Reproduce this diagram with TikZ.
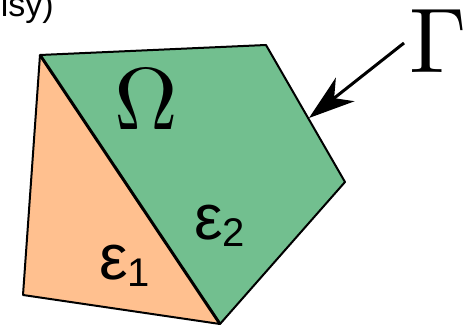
\documentclass[tikz,border=0pt]{standalone}
\usepackage{fontspec}
\newfontfamily\sansf{Liberation Sans}
\usetikzlibrary{arrows.meta}
\definecolor{gr}{RGB}{114,191,143}
\definecolor{orng}{RGB}{255,192,143}
\tikzset{
  edge/.style={line width=2pt, line join=round},
  lbl/.style={inner sep=0pt, anchor=base west},
  eps/.style={lbl, font=\sansf\fontsize{64}{64}\selectfont},
}
\newcommand{\subnum}[1]{{\fontsize{40}{40}\selectfont\raisebox{-7pt}{#1}}}
\begin{document}
\begin{tikzpicture}[x=1pt,y=-1pt]
\useasboundingbox (0,0) rectangle (474,328);
\coordinate (A) at (40,55);
\coordinate (B) at (266,45);
\coordinate (C) at (345,182);
\coordinate (D) at (220,324);
\coordinate (E) at (23,295);
\fill[orng] (A)--(D)--(E)--cycle;
\fill[gr] (A)--(B)--(C)--(D)--cycle;
\draw[edge] (A)--(B)--(C)--(D)--(E)--cycle;
\draw[line width=3pt] (A)--(D);
\node[lbl, scale=8.8] (om) at (113,130) {$\Omega$};
\node[lbl, scale=9.2] (gam) at (408,73) {$\Gamma$};
\coordinate (as) at (404,43);
\coordinate (at) at (309,118);
\draw[line width=3pt, -{Stealth[length=46pt,width=30pt,inset=14pt]}] (as) -- (at);
\node[eps] (e1) at (99,280) {ε\subnum{1}};
\node[eps] (e2) at (194,240) {ε\subnum{2}};
\node[inner sep=0pt, anchor=base east, font=\sansf\fontsize{34}{34}\selectfont] (top) at (54,17) {isy)};
\end{tikzpicture}
\end{document}
